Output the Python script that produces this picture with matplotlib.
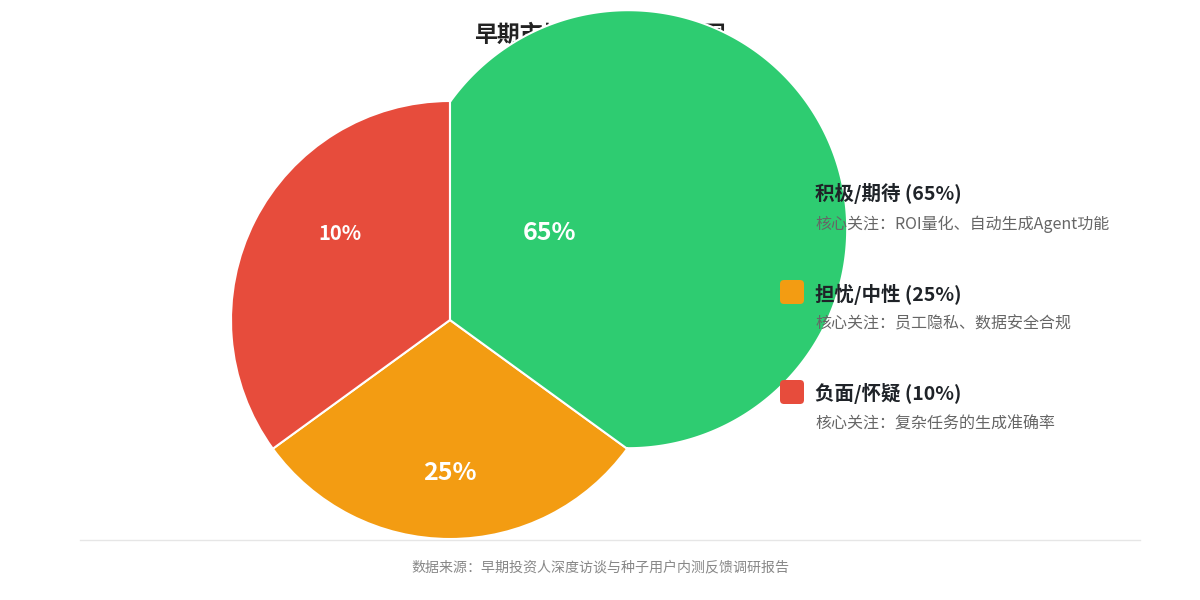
import matplotlib
matplotlib.use("Agg")
import matplotlib.pyplot as plt
import numpy as np
from matplotlib.patches import Polygon, FancyBboxPatch

plt.rcParams["font.family"] = ["Noto Sans CJK SC", "DejaVu Sans"]

# data
categories = ["积极/期待", "担忧/中性", "负面/怀疑"]
percents = [65, 25, 10]
focus = ["ROI量化、自动生成Agent功能", "员工隐私、数据安全合规", "复杂任务的生成准确率"]
slice_share = [35, 30, 35]  # angular share of each slice as rendered
colors = ["#2ecc71", "#f39c12", "#e74c3c"]

TITLE = "早期市场反馈情绪分布图"
SOURCE = "数据来源：早期投资人深度访谈与种子用户内测反馈调研报告"

W, H = 1200, 600
CENTER = (450, H - 320)
RADIUS = 219
HOVER_OFFSET = 200  # the first slice's arc is pushed out along its mid angle
DY = 2  # CJK font sits a little high with va="center"

fig = plt.figure(figsize=(12, 6), dpi=100)
ax = fig.add_axes([0, 0, 1, 1])

wedges, _ = ax.pie(
    slice_share,
    colors=colors,
    startangle=90,
    counterclock=False,
    center=CENTER,
    radius=RADIUS,
    wedgeprops={"edgecolor": "white", "linewidth": 1.5},
)

# rebuild the first (green) slice: apex stays, outer arc drawn on the offset circle
g = wedges[0]
t1, t2 = np.radians(g.theta1), np.radians(g.theta2)
mid = 0.5 * (t1 + t2)
cx, cy = CENTER
c2 = np.array([cx + HOVER_OFFSET * np.cos(mid), cy + HOVER_OFFSET * np.sin(mid)])
p_start = np.array([cx + RADIUS * np.cos(t2), cy + RADIUS * np.sin(t2)])
p_end = np.array([cx + RADIUS * np.cos(t1), cy + RADIUS * np.sin(t1)])
a1 = np.arctan2(*(p_start - c2)[::-1])
a2 = np.arctan2(*(p_end - c2)[::-1])
if a2 > a1:
    a2 -= 2 * np.pi
ang = np.linspace(a1, a2, 300)
arc = np.column_stack([c2[0] + RADIUS * np.cos(ang), c2[1] + RADIUS * np.sin(ang)])
pts = np.vstack([[CENTER], [p_start], arc, [p_end]])
g.set_visible(False)
ax.add_patch(Polygon(pts, closed=True, facecolor=colors[0], edgecolor="white",
                     linewidth=1.5, zorder=2))

# percent labels on slices
label_xy = [(550, 231), (450, 471), (340, 232)]
label_size = [18, 18, 14.5]
for (lx, ly), p, fs in zip(label_xy, percents, label_size):
    ax.text(lx, H - ly - DY, f"{p}%", color="white", fontsize=fs, fontweight="bold",
            ha="center", va="center", zorder=4)

# title sits under the slices
ax.text(600, H - 33 - DY, TITLE, fontsize=16.5, fontweight="bold", color="#222222",
        ha="center", va="center", zorder=0.5)

# legend with focus notes
for i, (cat, p, note, col) in enumerate(zip(categories, percents, focus, colors)):
    yc = H - (192 + 100 * i)
    ax.add_patch(FancyBboxPatch((782, yc - 10), 20, 20,
                                boxstyle="round,pad=2,rounding_size=4",
                                facecolor=col, edgecolor="none", zorder=5))
    ax.text(815, yc - DY, f"{cat} ({p}%)", fontsize=14, fontweight="bold",
            color="#1f2328", ha="left", va="center", zorder=6)
    ax.text(815, yc - 30 - DY, f"核心关注：{note}", fontsize=11.5, color="#666666",
            ha="left", va="center", zorder=6)

# footer
ax.plot([80, 1140], [H - 540, H - 540], color="#e6e6e6", linewidth=1, zorder=1)
ax.text(600, H - 565 - DY, SOURCE, fontsize=10.1, color="#888888",
        ha="center", va="center")

ax.set_xlim(0, W)
ax.set_ylim(0, H)
ax.set_aspect("auto")
ax.axis("off")

fig.savefig("out.png", dpi=100, facecolor="white")
